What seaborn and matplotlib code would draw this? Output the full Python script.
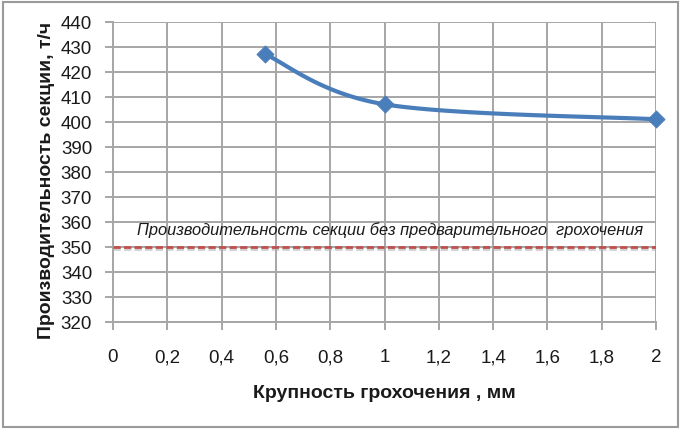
import numpy as np
import pandas as pd
import matplotlib
matplotlib.use("Agg")
import matplotlib.pyplot as plt
import matplotlib.patheffects as pe
from matplotlib.patches import Rectangle
import seaborn as sns

# Data
size_mm = [0.56, 1.0, 2.0]
capacity = [427, 407, 401]
baseline = 350
baseline_label = "Производительность секции без предварительного  грохочения"
x_ticks = [0, 0.2, 0.4, 0.6, 0.8, 1.0, 1.2, 1.4, 1.6, 1.8, 2.0]
x_ticklabels = ["0", "0,2", "0,4", "0,6", "0,8", "1", "1,2", "1,4", "1,6", "1,8", "2"]
y_ticks = list(range(320, 441, 10))
xlabel = "Крупность грохочения , мм"
ylabel = "Производительность секции, т/ч"

sns.set_theme(style="white")
plt.rcParams['font.family'] = ['Liberation Sans', 'DejaVu Sans']

def catmull_rom(xs, ys, n=60):
    P = np.column_stack([xs, ys]).astype(float)
    out = []
    for i in range(len(P) - 1):
        p0 = P[i - 1] if i > 0 else P[i]
        p1 = P[i]
        p2 = P[i + 1]
        p3 = P[i + 2] if i + 2 < len(P) else P[i + 1]
        c1 = p1 + (p2 - p0) / 6
        c2 = p2 - (p3 - p1) / 6
        t = np.linspace(0, 1, n)[:, None]
        seg = ((1 - t) ** 3) * p1 + 3 * ((1 - t) ** 2) * t * c1 + 3 * (1 - t) * t ** 2 * c2 + t ** 3 * p2
        out.append(seg if i == 0 else seg[1:])
    return np.vstack(out)

fig = plt.figure(figsize=(6.82, 4.31), dpi=100)
ax = fig.add_axes([113 / 682, (431 - 323) / 431, (656 - 113) / 682, (323 - 22.7) / 431])

grid_c = "#A6A6A6"
ax.set_xlim(0, 2)
ax.set_ylim(320, 440)
ax.set_xticks(x_ticks)
ax.set_xticklabels(x_ticklabels)
ax.set_yticks(y_ticks)
ax.grid(True, color=grid_c, linewidth=1.4)
for s in ["top", "right"]:
    ax.spines[s].set_visible(False)
for s in ["left", "bottom"]:
    ax.spines[s].set_color(grid_c)
    ax.spines[s].set_linewidth(1.4)
ax.tick_params(axis="both", which="major", length=6, width=1.4, color=grid_c,
               labelsize=13.5, labelcolor="#1a1a1a", left=True, bottom=True)
ax.tick_params(axis="x", pad=13)
ax.tick_params(axis="y", pad=9)

curve = catmull_rom(size_mm, capacity)
curve_df = pd.DataFrame({"x": curve[:, 0], "y": curve[:, 1]})
pts_df = pd.DataFrame({"x": size_mm, "y": capacity})
line_c = "#4A7EBB"
sns.lineplot(data=curve_df, x="x", y="y", ax=ax, color=line_c, linewidth=3, sort=False,
             estimator=None, zorder=4)
sns.scatterplot(data=pts_df, x="x", y="y", ax=ax, color=line_c, marker="D", s=75,
                edgecolor=line_c, zorder=5, clip_on=False)

ax.axhline(baseline, color="#C0504D", linewidth=2, linestyle=(0, (2.6, 1.2)), zorder=3,
           path_effects=[pe.SimpleLineShadow(offset=(0, -1.5), shadow_color="#b0b0b0", alpha=0.6), pe.Normal()])
ax.text(0.088, 357.2, baseline_label, fontsize=11.8, style="italic", color="#1a1a1a",
        ha="left", va="center", zorder=6)

ax.set_xlabel(xlabel, fontsize=14, fontweight="bold", color="#1a1a1a", va="top")
ax.set_ylabel(ylabel, fontsize=14, fontweight="bold", color="#1a1a1a")
ax.xaxis.set_label_coords((384.5 - 113) / 543, -(385 - 323) / 300.3)
ax.yaxis.set_label_coords(-(113 - 55) / 543, (323 - 180) / 300.3)

fig.patches.append(Rectangle((3 / 682, 3 / 431), 675 / 682, 425 / 431, transform=fig.transFigure,
                             fill=False, edgecolor="#9a9a9a", linewidth=1.5))

fig.savefig("out.png", dpi=100)
